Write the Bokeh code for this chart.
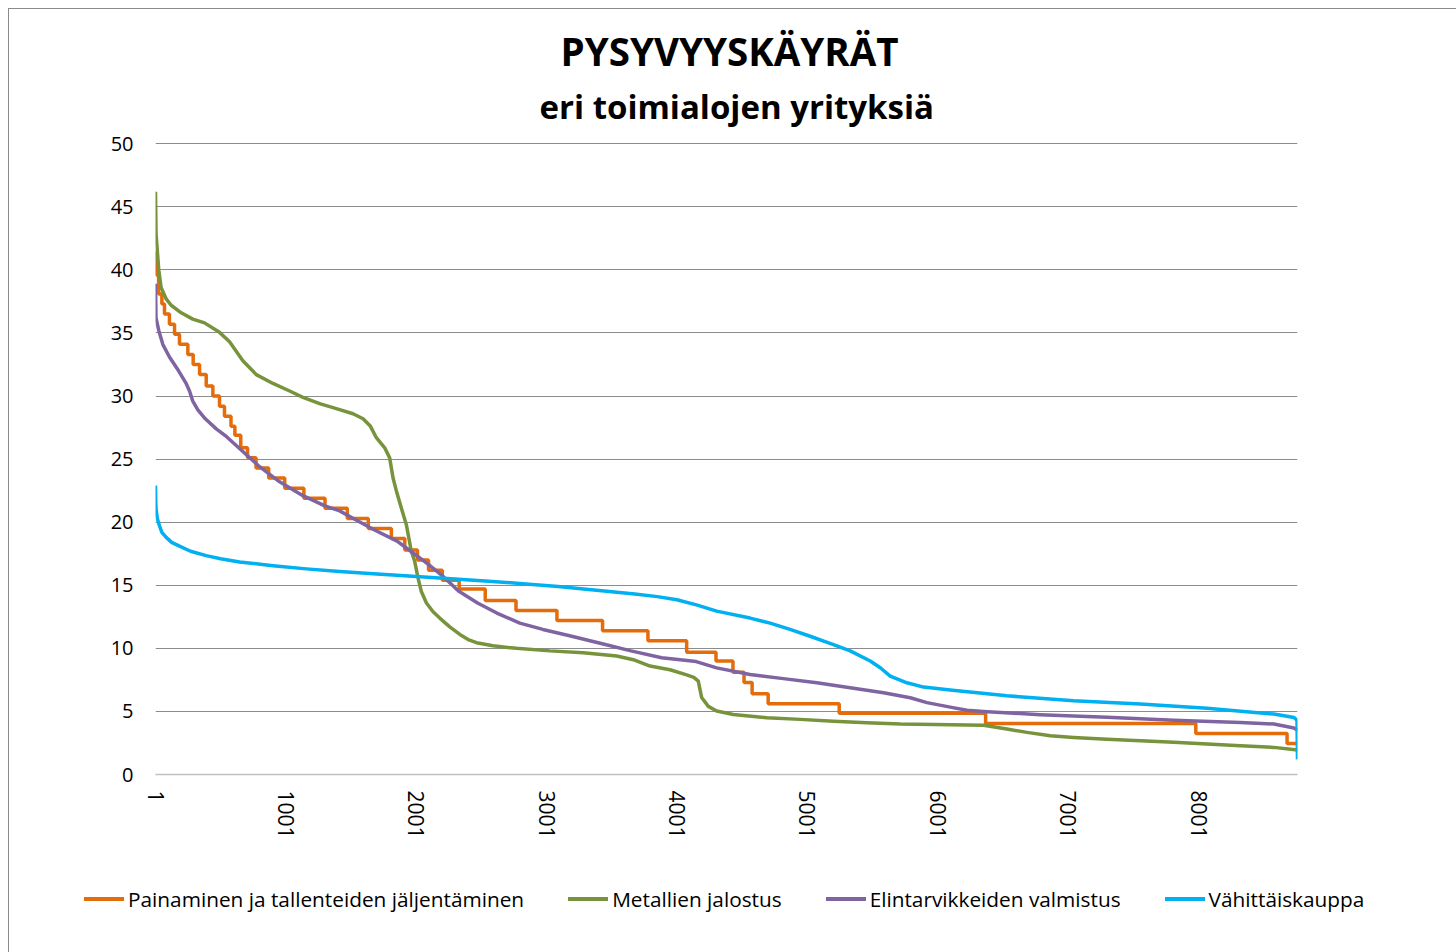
from bokeh.plotting import figure
from bokeh.layouts import column
from bokeh.models import Range1d, FixedTicker, SingleIntervalTicker, Title, Div
from bokeh.embed import file_html
from bokeh.resources import INLINE

TITLE = "PYSYVYYSKÄYRÄT"
SUBTITLE = "eri toimialojen yrityksiä"
SERIES_NAMES = ["Painaminen ja tallenteiden jäljentäminen", "Metallien jalostus",
                "Elintarvikkeiden valmistus", "Vähittäiskauppa"]
X_TICKS = [1, 1001, 2001, 3001, 4001, 5001, 6001, 7001, 8001]
X_TICK_LABELS = ["1", "1001", "2001", "3001", "4001", "5001", "6001", "7001", "8001"]
Y_TICK_STEP = 5

# Painaminen ja tallenteiden jäljentäminen (step series: start hour of each level)
print_x = [1, 8, 25, 50, 70, 108, 147, 185, 249, 290, 339, 390, 441, 492, 530, 580, 610, 655,
           707, 772, 869, 992, 1139, 1301, 1472, 1633, 1810, 1913, 2010, 2095, 2201, 2330,
           2530, 2766, 3080, 3430, 3778, 4075, 4300, 4430, 4515, 4577, 4700, 5245, 6368,
           7980, 8680, 8760]
print_y = [41.4, 39.6, 38.1, 37.3, 36.5, 35.7, 34.9, 34.1, 33.3, 32.5, 31.7, 30.8, 30.0, 29.2,
           28.4, 27.6, 26.9, 25.9, 25.1, 24.3, 23.5, 22.7, 21.9, 21.1, 20.3, 19.5, 18.7, 17.8,
           17.0, 16.2, 15.4, 14.7, 13.8, 13.0, 12.2, 11.4, 10.6, 9.7, 9.0, 8.1, 7.3, 6.4, 5.6,
           4.85, 4.05, 3.25, 2.45, 2.45]

# Metallien jalostus
metal_x = [1, 5, 26, 44, 83, 121, 198, 287, 377, 492, 569, 671, 774, 902, 1030, 1132, 1260,
           1388, 1516, 1593, 1650, 1695, 1759, 1797, 1823, 1848, 1887, 1925, 1963, 1989, 2014,
           2040, 2079, 2130, 2181, 2258, 2335, 2399, 2463, 2589, 2770, 3026, 3282, 3538, 3666,
           3794, 3947, 4075, 4130, 4164, 4190, 4241, 4305, 4433, 4689, 4945, 5201, 5457, 5713,
           5970, 6352, 6531, 6685, 6864, 7043, 7299, 7555, 7811, 8067, 8323, 8579, 8760]
metal_y = [46.2, 42.9, 40.0, 38.6, 37.7, 37.2, 36.6, 36.1, 35.8, 35.05, 34.3, 32.8, 31.7, 31.0,
           30.4, 29.9, 29.4, 29.0, 28.6, 28.2, 27.6, 26.7, 25.9, 25.1, 23.5, 22.5, 21.1, 19.8,
           17.7, 16.9, 15.6, 14.5, 13.6, 12.9, 12.4, 11.7, 11.1, 10.7, 10.45, 10.2, 10.0, 9.8,
           9.66, 9.4, 9.1, 8.6, 8.3, 7.9, 7.7, 7.4, 6.1, 5.4, 5.03, 4.76, 4.5, 4.37, 4.23, 4.1,
           4.0, 3.97, 3.9, 3.6, 3.34, 3.07, 2.94, 2.8, 2.68, 2.55, 2.41, 2.28, 2.15, 1.94]

# Elintarvikkeiden valmistus
food_x = [1, 5, 26, 57, 108, 178, 236, 262, 287, 326, 383, 467, 544, 671, 799, 953, 1132, 1300,
          1414, 1501, 1677, 1854, 1972, 2089, 2207, 2325, 2471, 2619, 2795, 2972, 3177, 3412,
          3648, 3883, 4148, 4305, 4561, 4817, 5073, 5329, 5585, 5790, 5918, 6096, 6225, 6352,
          6787, 7299, 7811, 8323, 8579, 8733, 8760]
food_y = [38.9, 36.2, 35.2, 34.1, 33.1, 32.0, 31.0, 30.4, 29.6, 28.9, 28.2, 27.4, 26.8, 25.6,
          24.4, 23.2, 22.1, 21.3, 20.9, 20.4, 19.4, 18.5, 17.6, 16.7, 15.7, 14.55, 13.6, 12.8,
          12.0, 11.5, 11.0, 10.4, 9.8, 9.26, 8.95, 8.45, 7.93, 7.6, 7.27, 6.87, 6.48, 6.08, 5.7,
          5.34, 5.1, 5.0, 4.74, 4.53, 4.31, 4.13, 4.0, 3.68, 3.5]

# Vähittäiskauppa
retail_x = [1, 3, 6, 15, 32, 50, 83, 125, 185, 270, 390, 500, 646, 902, 1158, 1414, 1700, 1913,
            2207, 2501, 2795, 3089, 3383, 3677, 3850, 4000, 4150, 4305, 4561, 4715, 4868, 5022,
            5201, 5329, 5483, 5560, 5636, 5764, 5892, 6096, 6531, 7043, 7555, 8067, 8579, 8733,
            8756, 8760]
retail_y = [22.9, 21.6, 21.0, 20.3, 19.7, 19.2, 18.8, 18.4, 18.1, 17.7, 17.35, 17.1, 16.85,
            16.55, 16.3, 16.1, 15.9, 15.75, 15.55, 15.35, 15.15, 14.9, 14.6, 14.3, 14.1, 13.85,
            13.45, 12.95, 12.4, 12.0, 11.5, 10.96, 10.3, 9.8, 9.0, 8.46, 7.8, 7.27, 6.93, 6.7,
            6.24, 5.84, 5.58, 5.25, 4.79, 4.52, 4.3, 1.2]

COLORS = ["#E46C0A", "#77933C", "#8064A2", "#00B0F0"]
FONT = "Open Sans"
LW = 3.5
BORDER = "1px solid #8a8a8a"

W, H1, H2 = 1447, 851, 92
p = figure(width=W, height=H1, output_backend="svg", toolbar_location=None, title=None,
           x_range=Range1d(1, 8760), y_range=Range1d(0, 50.1),
           min_border_left=146, min_border_right=W - 1288,
           min_border_top=133, min_border_bottom=H1 - 765)
p.outline_line_color = None
p.background_fill_color = "white"
p.border_fill_color = "white"

p.xgrid.visible = False
p.ygrid.ticker = SingleIntervalTicker(interval=Y_TICK_STEP, num_minor_ticks=0)
p.ygrid.grid_line_color = "#8c8c8c"
p.ygrid.grid_line_width = 1

xa = p.xaxis[0]
xa.ticker = FixedTicker(ticks=X_TICKS)
xa.major_label_overrides = dict(zip(X_TICKS, X_TICK_LABELS))
xa.major_label_orientation = "vertical"
xa.major_tick_line_color = None
xa.minor_tick_line_color = None
xa.major_tick_out = 0
xa.major_tick_in = 0
xa.axis_line_color = "#c0c0c0"
xa.axis_line_width = 1.5
xa.major_label_standoff = 16
xa.major_label_text_font = FONT
xa.major_label_text_font_size = "21px"
xa.major_label_text_color = "#000000"

ya = p.yaxis[0]
ya.ticker = SingleIntervalTicker(interval=Y_TICK_STEP, num_minor_ticks=0)
ya.axis_line_color = None
ya.major_tick_line_color = None
ya.minor_tick_line_color = None
ya.major_tick_out = 0
ya.major_tick_in = 0
ya.major_label_standoff = 22
ya.major_label_text_font = FONT
ya.major_label_text_font_size = "20px"
ya.major_label_text_color = "#000000"

p.step(print_x, print_y, mode="after", line_color=COLORS[0], line_width=LW)
p.line(metal_x, metal_y, line_color=COLORS[1], line_width=LW, line_join="round")
p.line(food_x, food_y, line_color=COLORS[2], line_width=LW, line_join="round")
p.line(retail_x, retail_y, line_color=COLORS[3], line_width=LW, line_join="round")

p.add_layout(Title(text=SUBTITLE, align="left", offset=384, standoff=27, text_font=FONT,
                   text_font_style="bold", text_font_size="33px", text_color="#000000"), "above")
p.add_layout(Title(text=TITLE, align="left", offset=405, standoff=-16, text_font=FONT,
                   text_font_style="bold", text_font_size="38.5px", text_color="#000000"), "above")

# legend strip below the chart (wider than the plotting area, as in the original)
items_html = "".join(
    f'<span style="display:inline-flex;align-items:center;margin-right:44px;">'
    f'<span style="display:inline-block;width:40px;height:{LW}px;background:{c};"></span>'
    f'<span style="margin-left:4px;">{n}</span></span>'
    for n, c in zip(SERIES_NAMES, COLORS))
legend_html = (f'<div style="position:absolute;left:70px;top:20px;height:28px;display:flex;'
               f'align-items:center;white-space:nowrap;font-family:\'{FONT}\';font-size:20.8px;'
               f'color:#000000;line-height:28px;">{items_html}</div>')
lg = Div(text=legend_html, width=W, height=H2,
         styles={"position": "relative", "background": "white"})

layout = column(p, lg, spacing=0)
layout.styles = {"margin-left": "8px", "margin-top": "8px",
                 "border-left": BORDER, "border-top": BORDER}

open("out.html", "w").write(file_html(layout, INLINE))
